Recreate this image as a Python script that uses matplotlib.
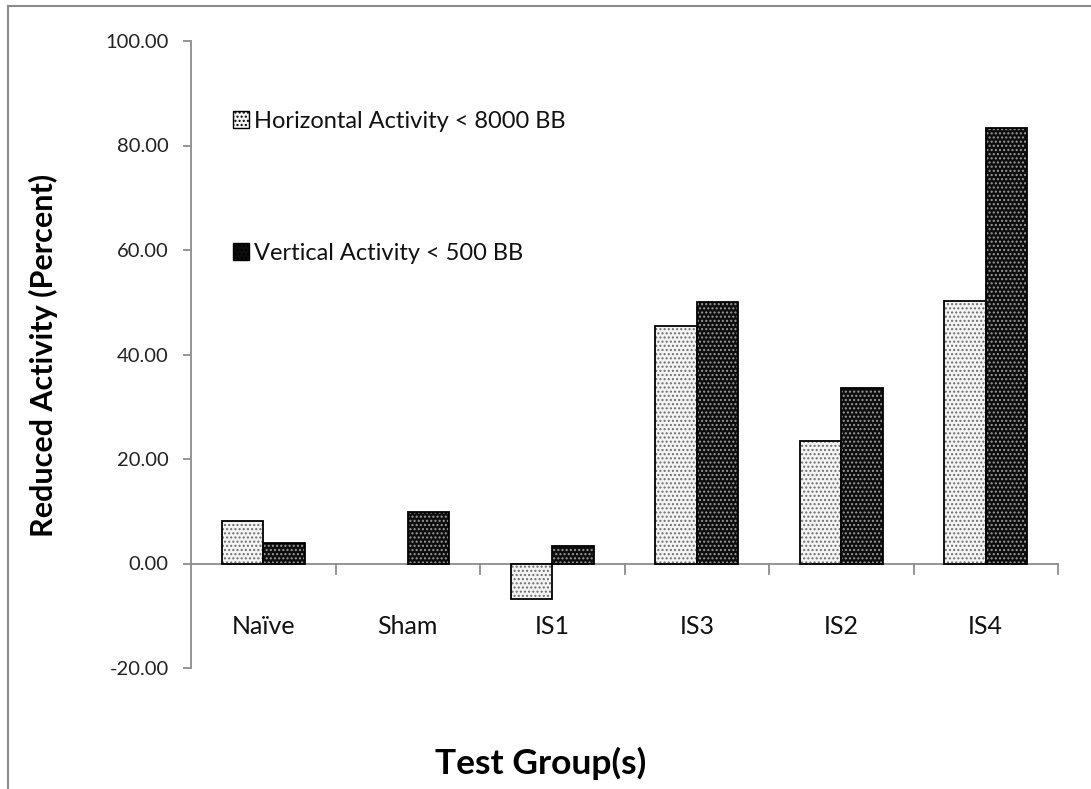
import numpy as np
import matplotlib
matplotlib.use("Agg")
import matplotlib.pyplot as plt
from matplotlib.patches import Patch
from matplotlib.lines import Line2D

# ---- data ----
groups = ["Naïve", "Sham", "IS1", "IS3", "IS2", "IS4"]
horizontal = [8.2, 0.0, -6.7, 45.4, 23.5, 50.3]
vertical = [4.0, 9.8, 3.3, 50.0, 33.5, 83.3]
series_labels = ["Horizontal Activity < 8000 BB", "Vertical Activity < 500 BB"]
yticks = [-20, 0, 20, 40, 60, 80, 100]

plt.rcParams["font.family"] = ["Lato", "DejaVu Sans"]
plt.rcParams["hatch.linewidth"] = 1.0

W, H = 1091, 789
fig = plt.figure(figsize=(W / 100, H / 100), dpi=100)
ax = fig.add_axes([191 / W, 1 - 668 / H, 867 / W, 627 / H])

x = np.arange(len(groups))
bw = 1 / 3.5  # excel gap width 150%


def outline(vals):
    # no black outline on zero-height bars
    return ["none" if v == 0 else "black" for v in vals]


# light series: white with grey dots
ax.bar(x - bw / 2, horizontal, bw, color="#f4f4f4", edgecolor="#6e6e6e",
       hatch="....", linewidth=0, zorder=2)
ax.bar(x - bw / 2, horizontal, bw, fill=False, edgecolor=outline(horizontal),
       linewidth=1.3, zorder=3)
# dark series: black with light grey dots
ax.bar(x + bw / 2, vertical, bw, color="#0d0d0d", edgecolor="#9a9a9a",
       hatch="....", linewidth=0, zorder=2)
ax.bar(x + bw / 2, vertical, bw, fill=False, edgecolor=outline(vertical),
       linewidth=1.3, zorder=3)

ax.set_xlim(-0.5, len(groups) - 0.5)
ax.set_ylim(-20, 100)

# axes styling
for side in ["top", "right", "bottom"]:
    ax.spines[side].set_visible(False)
ax.spines["left"].set_color("#8c8c8c")
ax.spines["left"].set_linewidth(1.3)

ax.set_yticks(yticks)
ax.set_yticklabels([f"{v:.2f}" for v in yticks], fontsize=14.5, color="#222222")
ax.tick_params(axis="y", direction="out", length=6, width=1.3,
               color="#8c8c8c", pad=10)
ax.set_xticks([])

# category axis drawn along zero
ax.axhline(0, color="#8c8c8c", lw=1.3, zorder=1)
for b in np.arange(0.5, len(groups), 1.0):
    ax.plot([b, b], [0, -2.0], color="#8c8c8c", lw=1.3, clip_on=False, zorder=1)
for xi, g in zip(x, groups):
    ax.text(xi, -12.0, g, ha="center", va="center", fontsize=18, color="#111111")

# legend inside the plot
handles = [
    Patch(facecolor="#f4f4f4", edgecolor="black", hatch="....", linewidth=1),
    Patch(facecolor="#0d0d0d", edgecolor="black", hatch="....", linewidth=1),
]
leg = ax.legend(handles, series_labels, loc="upper left",
                bbox_to_anchor=(0.048, 0.889), frameon=False, fontsize=17,
                labelspacing=4.7, handlelength=0.7, handleheight=0.7,
                handletextpad=0.2, borderpad=0, borderaxespad=0)
for t in leg.get_texts():
    t.set_color("#111111")

fig.text(43 / W, 1 - 355 / H, "Reduced Activity (Percent)", rotation=90,
         ha="center", va="center", fontsize=22, fontweight="bold")
fig.text(541 / W, 1 - 763 / H, "Test Group(s)", ha="center", va="center",
         fontsize=25.5, fontweight="bold")

# outer chart frame (partially cropped in the reference)
fig.add_artist(Line2D([8 / W, 8 / W], [0, 1 - 6 / H], color="#8c8c8c", lw=1.5))
fig.add_artist(Line2D([8 / W, 1], [1 - 6 / H, 1 - 6 / H], color="#8c8c8c", lw=1.5))

fig.savefig("out.png", dpi=100)
